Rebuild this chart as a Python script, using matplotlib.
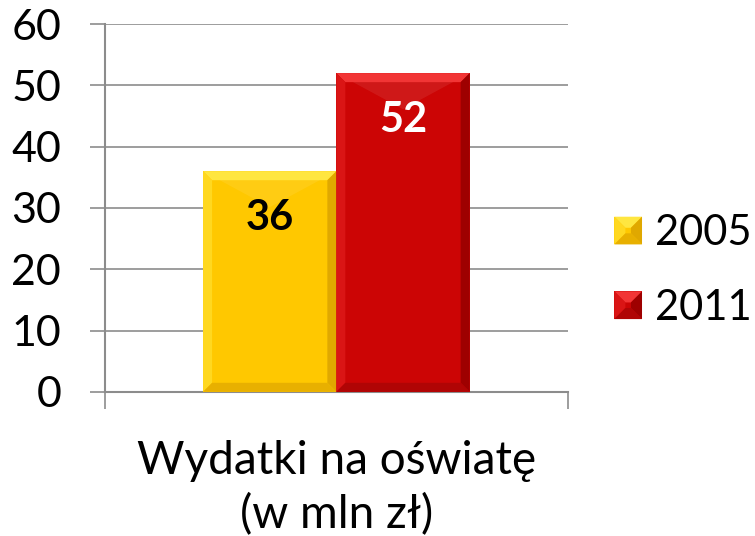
import numpy as np
import matplotlib
matplotlib.use('Agg')
from matplotlib import pyplot as plt
from matplotlib.patches import Polygon, Rectangle
from matplotlib.legend_handler import HandlerPatch

plt.rcParams['font.family'] = ['Lato', 'DejaVu Sans']

categories = ['Wydatki na oświatę\n(w mln zł)']
series_names = ['2005', '2011']
values = [36, 52]
y_ticks = [0, 10, 20, 30, 40, 50, 60]

# face, top, left, right, bottom
palettes = [
  ['#FFC800', '#FFE640', '#FFD820', '#E0A800', '#E8B000'],
  ['#CC0505', '#F23535', '#DA1515', '#9E0000', '#B00505'],
]
label_colors = ['black', 'white']


def bevel_polys(x0, y0, w, h, bx, by):
  x1, y1 = x0 + w, y0 + h
  top = [(x0, y1), (x1, y1), (x1 - bx, y1 - by), (x0 + bx, y1 - by)]
  left = [(x0, y0), (x0, y1), (x0 + bx, y1 - by), (x0 + bx, y0 + by)]
  right = [(x1, y0), (x1, y1), (x1 - bx, y1 - by), (x1 - bx, y0 + by)]
  bottom = [(x0, y0), (x1, y0), (x1 - bx, y0 + by), (x0 + bx, y0 + by)]
  return top, left, right, bottom


class BevelHandler(HandlerPatch):
  def __init__(self, pal):
    super().__init__()
    self.pal = pal

  def create_artists(self, legend, orig_handle, xdescent, ydescent, width, height, fontsize, trans):
    s = height * 0.95
    x0 = -xdescent + (width - s) / 2
    y0 = -ydescent + (height - s) / 2
    arts = [Rectangle((x0, y0), s, s, facecolor=self.pal[0], edgecolor='none', transform=trans)]
    b = s * 0.4
    for poly, c in zip(bevel_polys(x0, y0, s, s, b, b), self.pal[1:]):
      arts.append(Polygon(poly, closed=True, facecolor=c, edgecolor='none', transform=trans))
    return arts


fig = plt.figure(figsize=(7.55, 5.36), dpi=100)
ax = fig.add_axes([0.139, 0.269, 0.613, 0.686])

ax.set_xlim(0, 1)
ax.set_ylim(0, 60)

bar_w = 0.288
center = 0.5
xs = [center - bar_w / 2, center + bar_w / 2]

# bevel size in data units (about 9 px)
bx = 9 / (0.613 * 755)
by = 9 / (0.686 * 536) * 60

handles = []
for i, (x, v) in enumerate(zip(xs, values)):
  pal = palettes[i]
  bars = ax.bar(x, v, width=bar_w, color=pal[0], edgecolor='none', zorder=3, label=series_names[i])
  handles.append(bars[0])
  x0 = x - bar_w / 2
  # diagonal soft shading
  ax.add_patch(Polygon([(x0, v), (x0 + bar_w, v), (x0 + bar_w / 2, v - by * 4)],
                       closed=True, facecolor='white', alpha=0.08, edgecolor='none', zorder=3.5))
  for poly, c in zip(bevel_polys(x0, 0, bar_w, v, bx, by), pal[1:]):
    ax.add_patch(Polygon(poly, closed=True, facecolor=c, edgecolor='none', zorder=4))
  ax.annotate(f'{v}', (x, v), xytext=(0, -34), textcoords='offset points',
              ha='center', va='center', fontsize=30, fontweight='bold',
              color=label_colors[i], zorder=5)

ax.set_yticks(y_ticks)
ax.yaxis.grid(True, color='#8c8c8c', linewidth=1.2, zorder=0)
ax.set_axisbelow(True)
ax.tick_params(axis='y', length=10.5, width=1.2, color='#8c8c8c', labelsize=31, pad=21)

ax.set_xticks([0, 1])
ax.set_xticklabels(['', ''])
ax.tick_params(axis='x', length=12, width=1.2, color='#8c8c8c')
ax.set_xticks([center], minor=True)
ax.set_xticklabels(categories, minor=True, fontsize=33, linespacing=1.3)
ax.tick_params(axis='x', which='minor', length=0, pad=35)

for side in ['top', 'right']:
  ax.spines[side].set_visible(False)
for side in ['left', 'bottom']:
  ax.spines[side].set_color('#8c8c8c')
  ax.spines[side].set_linewidth(1.5)

ax.legend(handles, series_names, loc='center left', bbox_to_anchor=(1.09, 0.33),
          frameon=False, fontsize=30, handlelength=0.9, handletextpad=0.2,
          labelspacing=0.88, borderpad=0, borderaxespad=0,
          handler_map={handles[0]: BevelHandler(palettes[0]), handles[1]: BevelHandler(palettes[1])})

plt.savefig('out.png', dpi=100)
